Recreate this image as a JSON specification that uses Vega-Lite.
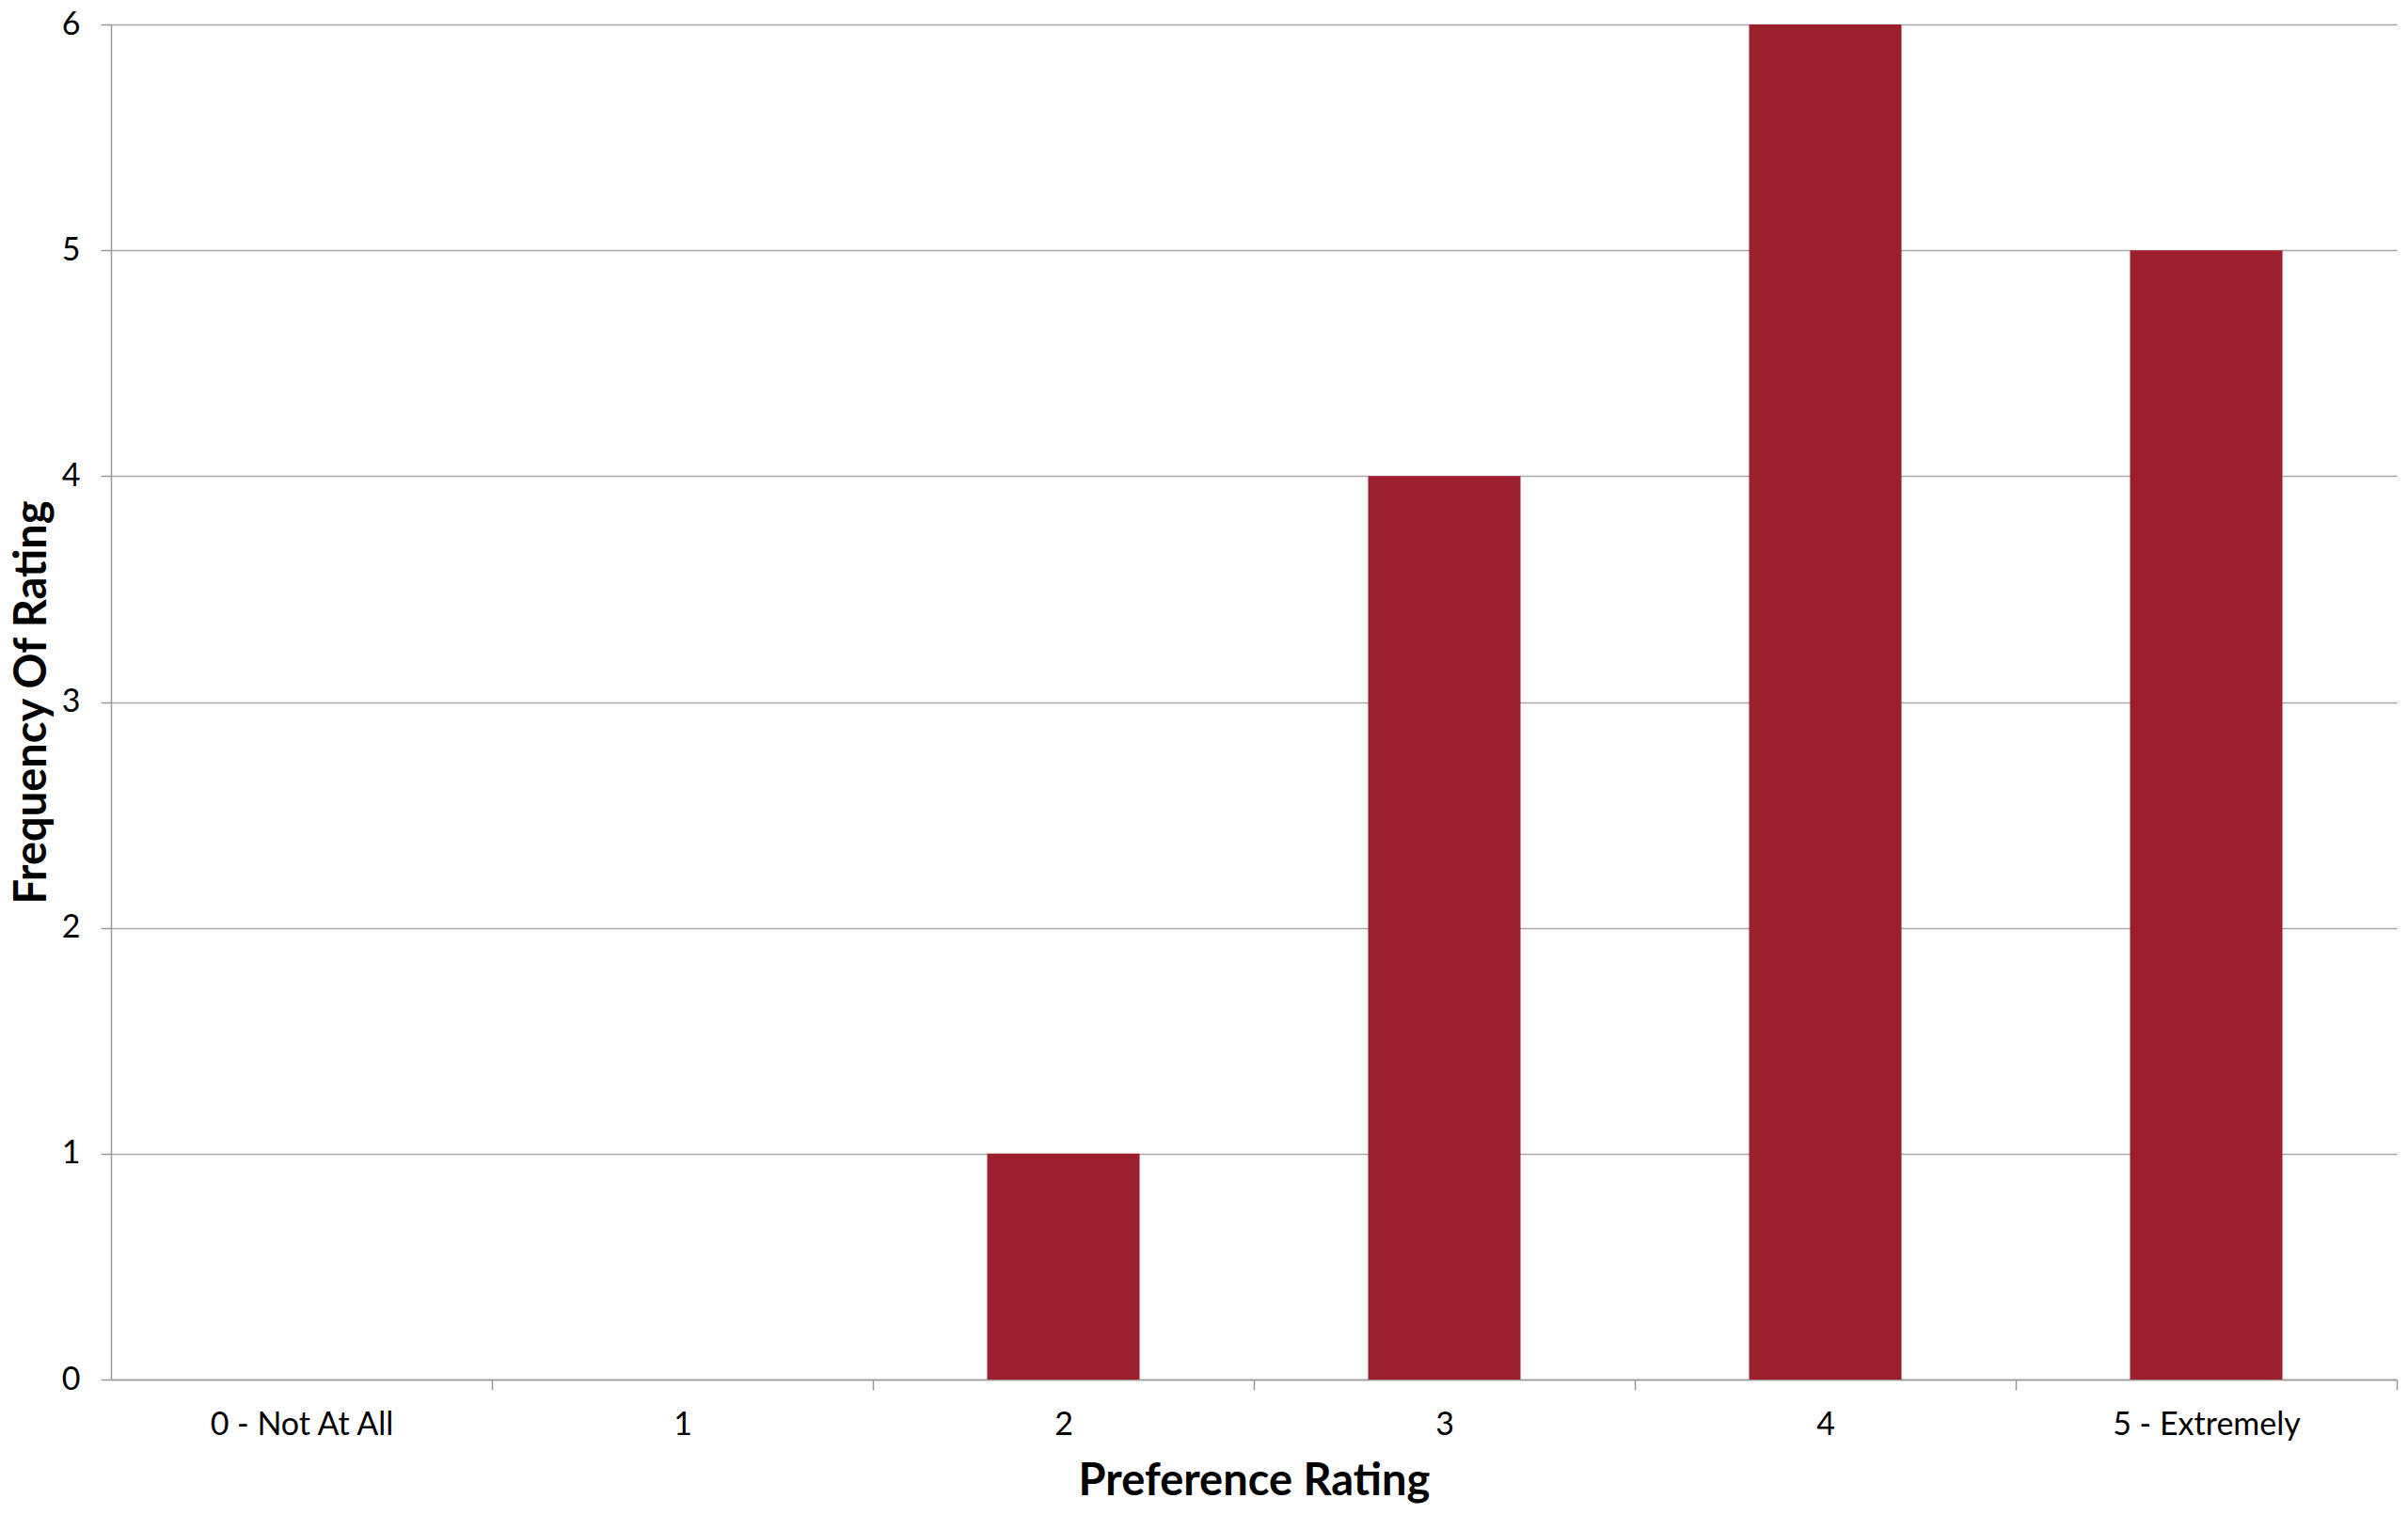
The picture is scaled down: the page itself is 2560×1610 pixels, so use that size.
{
  "$schema": "https://vega.github.io/schema/vega-lite/v6.json",
  "width": 2430,
  "height": 1441,
  "autosize": {"type": "none"},
  "padding": {"left": 118, "top": 26, "right": 12, "bottom": 143},
  "background": "white",
  "config": {
    "view": {"stroke": null},
    "font": "Lato",
    "axis": {
      "domainColor": "#9a9a9a",
      "tickColor": "#9a9a9a",
      "gridColor": "#a6a6a6",
      "domainWidth": 1.5,
      "tickWidth": 1.5,
      "gridWidth": 1.5,
      "labelColor": "#000000",
      "titleColor": "#000000",
      "labelFont": "Lato",
      "titleFont": "Lato",
      "labelFontSize": 34,
      "titleFontSize": 47,
      "titleFontWeight": "bold",
      "tickSize": 11,
      "labelOverlap": false,
      "labelLimit": 0
    }
  },
  "data": {
    "values": [
      {"rating": "0 - Not At All", "frequency": 0},
      {"rating": "1", "frequency": 0},
      {"rating": "2", "frequency": 1},
      {"rating": "3", "frequency": 4},
      {"rating": "4", "frequency": 6},
      {"rating": "5 - Extremely", "frequency": 5}
    ]
  },
  "mark": {"type": "bar", "color": "#9b1f2c"},
  "encoding": {
    "x": {
      "field": "rating",
      "type": "nominal",
      "sort": null,
      "title": "Preference Rating",
      "scale": {"paddingInner": 0.6, "paddingOuter": 0.3},
      "axis": {
        "labelAngle": 0,
        "tickOffset": 202.5,
        "labelOffset": -202.5,
        "labelPadding": 20,
        "titlePadding": 20,
        "grid": false
      }
    },
    "y": {
      "field": "frequency",
      "type": "quantitative",
      "title": "Frequency Of Rating",
      "scale": {"domain": [0, 6], "nice": false},
      "axis": {
        "values": [0, 1, 2, 3, 4, 5, 6],
        "labelPadding": 22,
        "titlePadding": 7,
        "grid": true
      }
    }
  }
}
